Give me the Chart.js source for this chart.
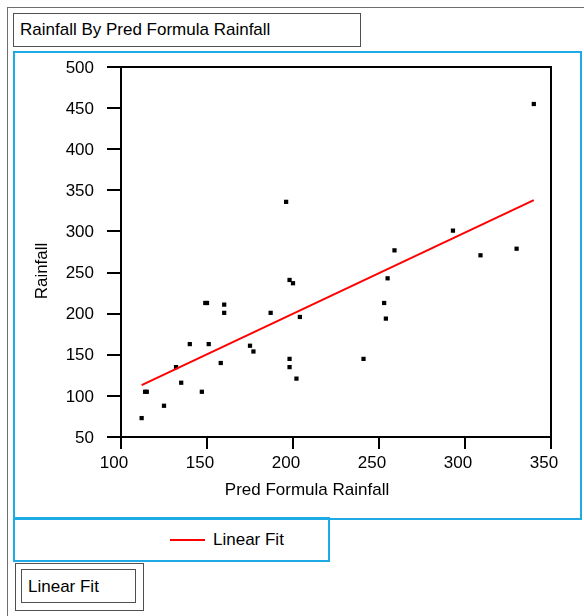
<!DOCTYPE html>
<html>
<head>
<meta charset="utf-8">
<script src="https://cdn.jsdelivr.net/npm/chart.js@4"></script>
<style>
  body { margin: 0; background: #fff; font-family: "Liberation Sans", Arial, sans-serif; }
  #page { position: relative; width: 584px; height: 616px; overflow: hidden; }
  .outer { position: absolute; left: 7px; top: 7px; width: 600px; height: 640px; border-left: 1px solid #6e6e6e; border-top: 1px solid #6e6e6e; }
  .titleBox { position: absolute; left: 13px; top: 13px; width: 340px; height: 32px; border: 1px solid #505050; font-size: 17px; line-height: 32px; padding-left: 6px; box-sizing: content-box; }
  .frame { position: absolute; left: 13px; top: 51px; width: 565px; height: 465px; border: 2px solid #1eaae4; }
  .legendBox { position: absolute; left: 13px; top: 517px; width: 313px; height: 41px; border: 2px solid #1eaae4; }
  .legendItem { position: absolute; left: 155px; top: 0; height: 41px; line-height: 41px; font-size: 17px; }
  .legendLine { display: inline-block; width: 35px; height: 2px; background: #ff0000; vertical-align: middle; margin-right: 8px; position: relative; top: -1px; }
  .boxOuter { position: absolute; left: 15px; top: 563px; width: 127px; height: 46px; border: 1px solid #505050; }
  .boxInner { position: absolute; left: 5px; top: 5px; height: 34px; border: 1px solid #505050; font-size: 17px; line-height: 34px; padding-left: 6px; box-sizing: border-box; width: 115px; }
  #chartWrap { position: absolute; left: 15px; top: 53px; width: 564px; height: 464px; }
</style>
</head>
<body>
<div id="page">
  <div class="outer"></div>
  <div class="titleBox" id="titleBox"></div>
  <div class="frame"></div>
  <div id="chartWrap"><canvas id="scatter" width="564" height="464"></canvas></div>
  <div class="legendBox"><div class="legendItem"><span class="legendLine"></span><span id="legendText"></span></div></div>
  <div class="boxOuter"><div class="boxInner" id="fitBox"></div></div>
</div>
<script>
// Data
const predRainfall = [196, 340, 259, 293, 309, 330, 112, 114, 115, 125, 132, 135, 140, 147, 149, 150, 151,
                      158, 160, 160, 175, 177, 187, 198, 200, 204, 198, 198, 202, 255, 253, 254, 241];
const rainfall     = [336, 455, 277, 301, 271, 279, 73, 105, 105, 88, 135, 116, 163, 105, 213, 213, 163,
                      140, 211, 201, 161, 154, 201, 241, 237, 196, 145, 135, 121, 243, 213, 194, 145];
const fitX = [112, 340];
const fitY = [113, 338];

const xTicks = [100, 150, 200, 250, 300, 350];
const yTicks = [50, 100, 150, 200, 250, 300, 350, 400, 450, 500];

const chartTitle = 'Rainfall By Pred Formula Rainfall';
const xTitle = 'Pred Formula Rainfall';
const yTitle = 'Rainfall';
const fitLabel = 'Linear Fit';

document.getElementById('titleBox').textContent = chartTitle;
document.getElementById('legendText').textContent = fitLabel;
document.getElementById('fitBox').textContent = fitLabel;

const FONT = '"Liberation Sans", Arial, sans-serif';

// Plot frame + axis titles (placed like the original, not centred on the plot)
const framePlugin = {
    id: 'frame',
    afterDraw(chart) {
        const { ctx, chartArea: a } = chart;
        ctx.save();
        ctx.strokeStyle = '#000';
        ctx.lineWidth = 2;
        ctx.beginPath();
        ctx.moveTo(a.left, a.top);
        ctx.lineTo(a.right, a.top);
        ctx.lineTo(a.right, a.bottom);
        ctx.stroke();

        ctx.fillStyle = '#000';
        ctx.font = '17px ' + FONT;
        ctx.textAlign = 'center';
        ctx.textBaseline = 'middle';
        ctx.fillText(xTitle, 292, 437);

        ctx.translate(27, 218);
        ctx.rotate(-Math.PI / 2);
        ctx.fillText(yTitle, 0, 0);
        ctx.restore();
    }
};

const points = predRainfall.map((x, i) => ({ x: x, y: rainfall[i] }));
const fitLine = fitX.map((x, i) => ({ x: x, y: fitY[i] }));

new Chart(document.getElementById('scatter'), {
    type: 'scatter',
    data: {
        datasets: [
            {
                type: 'line',
                label: fitLabel,
                data: fitLine,
                borderColor: '#ff0000',
                borderWidth: 2,
                pointRadius: 0,
                fill: false
            },
            {
                label: 'Rainfall',
                data: points,
                pointStyle: 'rect',
                pointRadius: 3,
                pointBorderWidth: 0,
                backgroundColor: '#000',
                borderColor: '#000'
            }
        ]
    },
    options: {
        responsive: false,
        animation: false,
        layout: { padding: { left: 0, top: 14, right: 28, bottom: 0 } },
        plugins: {
            legend: { display: false },
            tooltip: { enabled: false }
        },
        scales: {
            x: {
                type: 'linear',
                min: 100,
                max: 350,
                afterFit: (s) => { s.height = 80; s.paddingLeft = 0; s.paddingRight = 0; },
                afterBuildTicks: (s) => { s.ticks = xTicks.map(v => ({ value: v })); },
                border: { display: true, color: '#000', width: 2 },
                grid: { drawOnChartArea: false, drawTicks: true, tickLength: 12, color: '#000', lineWidth: 2 },
                ticks: { color: '#000', font: { family: FONT, size: 17 }, padding: 4, labelOffset: -7, maxRotation: 0 }
            },
            y: {
                type: 'linear',
                min: 50,
                max: 500,
                afterFit: (s) => { s.width = 106; s.paddingTop = 0; s.paddingBottom = 0; },
                afterBuildTicks: (s) => { s.ticks = yTicks.map(v => ({ value: v })); },
                border: { display: true, color: '#000', width: 2 },
                grid: { drawOnChartArea: false, drawTicks: true, tickLength: 14, color: '#000', lineWidth: 2 },
                ticks: { color: '#000', font: { family: FONT, size: 17 }, padding: 13, labelOffset: 1 }
            }
        }
    },
    plugins: [framePlugin]
});
</script>
</body>
</html>
